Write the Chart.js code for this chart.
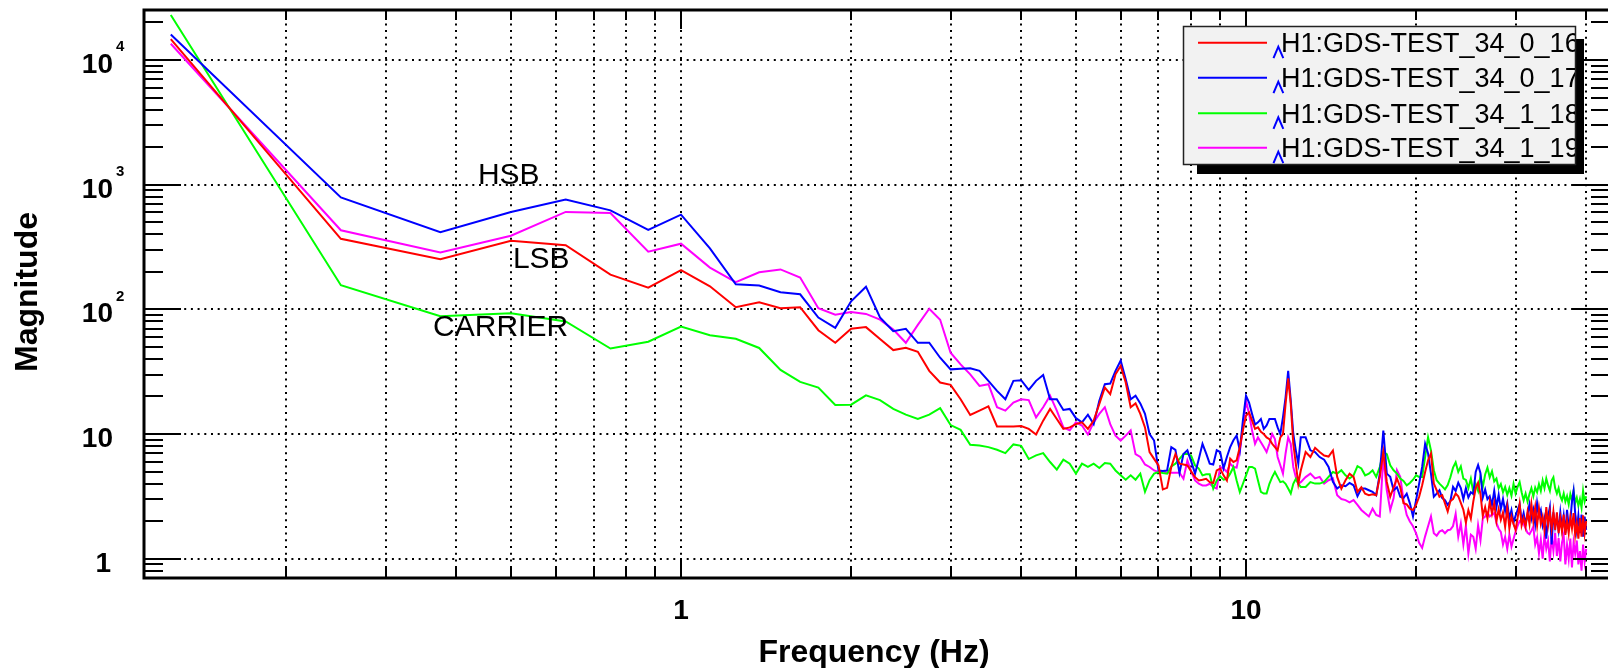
<!DOCTYPE html>
<html>
<head>
<meta charset="utf-8">
<script src="https://cdn.jsdelivr.net/npm/chart.js@4.4.0/dist/chart.umd.min.js"></script>
<style>
html,body{margin:0;padding:0;background:#fff;overflow:hidden;width:1608px;height:668px;}
canvas{display:block;}
</style>
</head>
<body>
<canvas id="c" width="1620" height="668"></canvas>
<script>
// ---------- data ----------
const freqs = [
 0.125,0.25,0.375,0.5,0.625,0.75,0.875,1,
 1.125,1.25,1.375,1.5,1.625,1.75,1.875,2,
 2.125,2.25,2.375,2.5,2.625,2.75,2.875,3,
 3.125,3.25,3.375,3.5,3.625,3.75,3.875,4,
 4.125,4.25,4.375,4.5,4.625,4.75,4.875,5,
 5.125,5.25,5.375,5.5,5.625,5.75,5.875,6,
 6.125,6.25,6.375,6.5,6.625,6.75,6.875,7,
 7.125,7.25,7.375,7.5,7.625,7.75,7.875,8,
 8.125,8.25,8.375,8.5,8.625,8.75,8.875,9,
 9.125,9.25,9.375,9.5,9.625,9.75,9.875,10,
 10.125,10.25,10.375,10.5,10.625,10.75,10.875,11,
 11.125,11.25,11.375,11.5,11.625,11.75,11.875,12,
 12.125,12.25,12.375,12.5,
 12.75,13,
 13.25,13.5,13.75,14, 14.25,14.5,14.75,15, 15.25,15.5,15.75,16,
 16.25,16.5,16.75,17, 17.25,17.5,17.75,18, 18.25,18.5,18.75,19,
 19.25,19.5,19.75,20, 20.25,20.5,20.75,21, 21.25,21.5,21.75,22,
 22.25,22.5,22.75,23, 23.25,23.5,23.75,24, 24.25,24.5,24.75,25,
 25.25,25.5,25.75,26, 26.25,26.5,26.75,27, 27.25,27.5,27.75,28,
 28.25,28.5,28.75,29, 29.25,29.5,29.75,30, 30.25,30.5,30.75,31,
 31.25,31.5,31.75,32, 32.25,32.5,32.75,33, 33.25,33.5,33.75,34,
 34.25,34.5,34.75,35, 35.25,35.5,35.75,36, 36.25,36.5,36.75,37,
 37.25,37.5,37.75,38, 38.25,38.5,38.75,39, 39.25,39.5,39.75,40
];

const ch16 = [ // red
 14700,368,252,355,327,190,149,206,
 153,104,114,102,104,68,54,70,
 72,57.7,47.1,49.2,45.7,32.1,25.9,24.8,
 19,14.2,15.4,16.7,11.5,11.5,11.5,11.6,
 11.0,9.9,12.8,15.9,13.2,11.0,11.3,12.0,
 12.4,11.0,12.8,17.4,23.6,20.9,30.1,35.2,
 25.9,16.4,17.6,14.5,11.3,7.16,6.32,5.6,
 3.6,3.7,5.44,6.9,5.78,5.7,5.6,5.0,
 4.51,4.24,4.3,4.37,4.11,4.05,5.1,5.28,
 4.66,4.24,6.34,5.97,6.15,7.85,10.7,14.0,
 14.9,12.8,11.0,11.3,10.4,10.0,9.4,9.1,
 8.35,7.85,7.4,9.4,10.0,17.4,28,17.4,
 8.35,5.79,3.99,5.1,
 7.17,6.54,
 7.75,7.16,6.73,6.6, 7.38,4.53,3.65,4.26, 4.81,4.53,3.44,3.74,
 3.32,3.23,3.29,3.23, 4.53,7.16,4.13,3.14, 3.74,4.4,3.74,2.78,
 2.73,2.52,2.46,2.7, 3.14,3.88,4.96,6.15, 6.98,4.0,3.54,3.14,
 3.23,2.78,2.39,2.9, 3.01,3.33,3.17,2.80, 2.47,1.95,2.45,2.1,
 2.87,3.68,4.07,3.3, 2.2,2.59,2.1,2.87, 2.3,2.80,2.0,2.49,
 2.05,2.35,1.8,2.57, 1.75,2.18,1.9,1.7, 2.12,2.73,1.85,2.12,
 1.8,2.37,1.9,2.73, 2.0,2.59,1.85,2.53, 1.9,2.18,1.7,2.59,
 1.85,2.35,1.75,2.37, 1.7,2.35,1.6,2.10, 1.65,2.26,1.55,2.02,
 1.6,2.14,1.75,2.32, 1.55,1.92,1.45,2.12, 1.5,2.23,1.6,2.0
];

const ch17 = [ // blue
 16000,789,415,604,761,622,433,574,
 308,159,155,137,132,86,71,116,
 152,86,66.8,69.7,53.9,54,40.9,33,
 33.4,33.7,32.1,26.7,22.2,19,26.7,27,
 22.6,26.7,29.8,19,19,15.6,15.9,13.4,
 12.4,14.3,12.0,18.5,25.1,25.4,32.1,38.9,
 27.5,19,20.3,17.6,14.5,10.0,8.87,5.1,
 5.05,5.1,7.85,7.47,4.87,6.9,7.4,6.0,
 4.81,6.3,8.35,7.0,5.79,5.7,7.4,7.17,
 5.3,6.54,7.85,8.9,9.73,7.4,12.9,20.3,
 17.9,14.5,11.9,12.4,13.2,11.0,11.7,13.2,
 13.2,13.2,11.3,10.0,13.6,19.7,32.1,18.6,
 10.0,7.4,5.79,9.4,
 9.4,7.4,
 7.16,6.53,6.22,5.44, 4.13,3.65,3.88,3.81, 4.05,3.88,3.17,3.65,
 3.65,3.54,3.44,3.23, 4.81,10.65,4.81,4.53, 3.54,3.74,3.14,3.06,
 3.32,2.78,2.18,2.95, 4.0,5.44,8.35,6.98, 4.81,3.14,3.32,3.54,
 3.06,2.95,2.7,2.9, 3.77,3.50,4.07,3.68, 3.0,3.68,3.1,3.41,
 3.30,4.97,5.64,4.85, 3.1,3.59,3.0,3.17, 2.7,3.50,2.6,3.25,
 2.5,3.01,2.4,2.80, 2.1,2.45,1.95,2.21, 2.47,2.73,2.0,2.32,
 1.9,2.29,2.73,2.1, 2.47,1.9,2.80,2.2, 2.45,1.85,2.12,1.45,
 2.18,2.59,1.3,2.35, 1.8,2.12,1.7,2.35, 1.75,2.21,1.6,2.47,
 1.8,2.02,2.87,3.50, 2.3,1.7,2.21,1.6, 2.26,1.5,2.18,1.7
];

const ch18 = [ // green
 22950,156,88,93,80,48.5,55,72.8,
 62,58,49,32.7,26.2,23.6,17.1,17.2,
 20.4,18.7,15.9,14.3,13.2,14.3,16.1,11.8,
 10.8,8.19,8.1,7.85,7.47,7.03,8.25,8.04,
 6.3,6.74,7.03,5.96,5.18,6.22,5.78,4.81,
 5.78,5.44,5.78,5.34,5.85,5.78,5.1,4.67,
 4.3,4.67,4.3,4.81,3.44,4.26,4.81,4.96,
 4.87,4.81,5.5,5.78,6.32,6.9,6.95,6.66,
 5.6,5.28,4.66,4.75,4.75,3.65,4.24,4.58,
 4.3,4.37,4.81,5.44,4.24,3.43,3.99,4.66,
 5.44,5.44,5.28,4.24,3.43,3.33,3.33,3.99,
 4.51,4.96,4.51,4.11,4.17,3.99,3.65,3.33,
 3.99,4.37,3.99,3.76,
 3.76,4.11,
 4.0,4.0,4.13,4.53, 4.96,4.81,5.12,4.66, 4.4,4.66,5.52,5.29,
 4.66,4.81,5.12,4.53, 5.44,7.16,6.9,5.6, 5.12,4.81,4.4,4.2,
 3.88,4.05,4.3,4.66, 4.53,4.53,6.53,9.43, 7.38,5.12,4.26,4.0,
 3.8,3.6,3.9,4.5, 5.37,5.92,4.97,5.50, 4.39,4.28,3.68,4.39,
 3.41,3.97,3.50,4.61, 3.77,4.73,5.37,4.50, 5.02,4.17,4.39,3.68,
 3.97,3.41,3.77,3.25, 3.68,3.20,3.97,3.33, 3.77,4.11,3.41,2.94,
 3.33,2.87,3.30,3.68, 3.17,3.72,3.41,3.97, 3.50,4.24,3.68,4.39,
 3.87,3.50,4.24,4.50, 3.68,3.33,3.68,3.17, 2.94,3.33,2.87,3.17,
 2.73,3.30,2.94,3.50, 2.80,3.09,2.66,3.01, 2.57,3.50,2.87,3.17
];

const ch19 = [ // magenta
 13500,431,286,389,604,593,290,336,
 216,165,198,209,180,102,90.6,95,
 91.9,82.6,68.8,53.9,75,101,82.6,44.9,
 36.2,30.1,24.3,25.1,16.4,15.4,17.9,19,
 18.7,13.6,16.4,20.3,15.4,11.3,10.7,12.4,
 11.7,9.9,12.4,14.5,16.4,12.0,9.7,8.87,
 9.7,10.7,6.9,6.54,5.7,5.44,5.1,4.96,
 5.05,4.9,4.9,4.9,4.9,4.38,6.14,5.0,
 4.24,3.99,3.87,3.87,3.99,3.76,3.65,5.44,
 5.28,4.96,5.79,5.44,5.38,7.17,11.3,18.6,
 14.5,10.7,8.35,9.4,8.6,7.85,7.17,8.35,
 10.0,9.1,6.54,5.62,4.81,6.98,9.4,8.35,
 5.44,4.51,3.99,4.11,
 4.51,4.81,
 4.4,4.53,4.0,4.26, 4.4,3.23,3.01,2.95, 2.83,2.95,2.7,2.46,
 2.31,2.18,2.52,2.24, 2.18,6.53,3.54,2.46, 3.06,5.12,4.53,2.95,
 2.24,1.99,1.82,1.6, 1.34,1.22,1.51,1.82, 2.18,1.6,1.53,1.65,
 1.69,1.6,1.69,1.71, 1.83,2.29,1.5,1.92, 1.3,1.83,1.1,1.56,
 1.50,1.2,1.85,1.4, 2.10,2.18,2.35,2.18, 2.26,2.32,1.94,1.74,
 1.64,1.3,1.50,1.2, 1.56,1.25,1.44,1.65, 1.83,2.00,1.97,1.90,
 1.74,1.61,1.57,1.68, 1.81,1.3,1.48,1.1, 1.42,1.0,1.56,1.2,
 1.39,0.95,1.50,1.15, 1.61,1.05,1.46,0.95, 1.35,1.56,0.9,1.29,
 1.0,1.45,0.85,1.35, 1.1,1.40,0.9,1.15, 0.8,1.3,0.95,1.2
];

const seriesNames  = ['H1:GDS-TEST_34_0_16','H1:GDS-TEST_34_0_17','H1:GDS-TEST_34_1_18','H1:GDS-TEST_34_1_19'];
const seriesValues = [ch16, ch17, ch18, ch19];
const seriesColors = ['#ff0000','#0000ff','#00ff00','#ff00ff'];

const xGridValues  = [0.2,0.3,0.4,0.5,0.6,0.7,0.8,0.9,1,2,3,4,5,6,7,8,9,10,20,30,40];
const xMajorValues = [1,10];
const xTickLabels  = ['1','10'];
const yMajorValues = [1,10,100,1000,10000];
const yTickBase    = ['1','10','10','10','10'];
const yTickExp     = ['','','2','3','4'];
const yMinorValues = [0.8,0.9,2,3,4,5,6,7,8,9,20,30,40,50,60,70,80,90,200,300,400,500,600,700,800,900,2000,3000,4000,5000,6000,7000,8000,9000,20000];

const xTitle = 'Frequency (Hz)';
const yTitle = 'Magnitude';
const annotationTexts = ['HSB','LSB','CARRIER'];
const annotationFreq  = [0.437, 0.504, 0.364];   // anchor (left edge) in Hz
const annotationMag   = [1015, 216, 61.3];       // anchor (baseline) in magnitude

const X_MIN = 0.11207, X_MAX = 44.08, Y_MIN = 0.7495, Y_MAX = 25170;

seriesValues.forEach((s,i)=>{ if (s.length !== freqs.length) throw new Error('length mismatch series '+i+': '+s.length+' vs '+freqs.length); });

// ---------- drawing helpers ----------
const FONT = '"Liberation Sans", Arial, Helvetica, sans-serif';

const rootStyle = {
  id: 'rootStyle',
  beforeDraw(chart) {
    const c = chart.ctx;
    c.save();
    c.fillStyle = '#ffffff';
    c.fillRect(0, 0, chart.width, chart.height);
    c.restore();
  },
  beforeDatasetsDraw(chart) {
    const c = chart.ctx, a = chart.chartArea, xs = chart.scales.x, ys = chart.scales.y;
    c.save();
    c.strokeStyle = '#000';
    c.lineWidth = 2;
    c.setLineDash([2, 4.7]);
    xGridValues.forEach(v => {
      const px = Math.round(xs.getPixelForValue(v));
      c.beginPath(); c.moveTo(px, a.top); c.lineTo(px, a.bottom); c.stroke();
    });
    yMajorValues.forEach(v => {
      const py = Math.round(ys.getPixelForValue(v));
      c.beginPath(); c.moveTo(a.left, py); c.lineTo(a.right, py); c.stroke();
    });
    c.restore();
  },
  afterDatasetsDraw(chart) {
    const c = chart.ctx, a = chart.chartArea, xs = chart.scales.x, ys = chart.scales.y;
    c.save();
    // frame
    c.strokeStyle = '#000';
    c.lineWidth = 3;
    c.strokeRect(a.left, a.top, a.right - a.left, a.bottom - a.top);
    // ticks
    c.lineWidth = 2;
    const xt = (v, len) => {
      const px = Math.round(xs.getPixelForValue(v));
      c.beginPath(); c.moveTo(px, a.bottom); c.lineTo(px, a.bottom - len); c.stroke();
      c.beginPath(); c.moveTo(px, a.top); c.lineTo(px, a.top + len); c.stroke();
    };
    xGridValues.forEach(v => xt(v, xMajorValues.includes(v) ? 19 : 10));
    const yt = (v, len) => {
      const py = Math.round(ys.getPixelForValue(v));
      c.beginPath(); c.moveTo(a.left, py); c.lineTo(a.left + len, py); c.stroke();
      c.beginPath(); c.moveTo(a.right, py); c.lineTo(a.right - len, py); c.stroke();
    };
    yMinorValues.forEach(v => yt(v, 19));
    yMajorValues.forEach(v => yt(v, 37));

    // tick labels
    c.fillStyle = '#000';
    c.textBaseline = 'alphabetic';
    yMajorValues.forEach((v, i) => {
      const py = ys.getPixelForValue(v);
      c.font = 'bold 28px ' + FONT;
      c.textAlign = 'right';
      c.fillText(yTickBase[i], yTickBase[i].length === 1 ? 111 : 113, py + 13);
      if (yTickExp[i]) {
        c.font = 'bold 15px ' + FONT;
        c.textAlign = 'left';
        c.fillText(yTickExp[i], 116, py - 8.5);
      }
    });
    c.font = 'bold 28px ' + FONT;
    c.textAlign = 'center';
    xMajorValues.forEach((v, i) => {
      c.fillText(xTickLabels[i], xs.getPixelForValue(v), 619);
    });

    // axis titles
    c.font = 'bold 32px ' + FONT;
    c.textAlign = 'center';
    c.fillText(xTitle, 874, 662);
    c.save();
    c.translate(37, 292);
    c.rotate(-Math.PI / 2);
    c.fillText(yTitle, 0, 0);
    c.restore();

    // annotations
    c.font = '30px ' + FONT;
    c.textAlign = 'left';
    annotationTexts.forEach((t, i) => {
      c.fillText(t, xs.getPixelForValue(annotationFreq[i]), ys.getPixelForValue(annotationMag[i]));
    });

    // legend
    const L = {x1: 1183, y1: 26, x2: 1576, y2: 165};
    c.fillStyle = '#000';
    c.fillRect(L.x2, L.y1 + 13, 8, L.y2 - L.y1 - 4);
    c.fillRect(L.x1 + 14, L.y2, L.x2 - L.x1 - 6, 9);
    c.fillStyle = '#f2f2f2';
    c.fillRect(L.x1, L.y1, L.x2 - L.x1, L.y2 - L.y1);
    c.strokeStyle = '#222';
    c.lineWidth = 1.5;
    c.strokeRect(L.x1 + 0.5, L.y1 + 0.5, L.x2 - L.x1 - 1, L.y2 - L.y1 - 1);
    const rowY = [42.7, 77.7, 113.3, 147.7];
    seriesNames.forEach((name, i) => {
      const y = rowY[i];
      c.strokeStyle = seriesColors[i];
      c.lineWidth = 2;
      c.beginPath(); c.moveTo(1198, y); c.lineTo(1267, y); c.stroke();
      c.save();
      c.beginPath(); c.rect(L.x1, L.y1, L.x2 - L.x1 - 1, L.y2 - L.y1); c.clip();
      c.fillStyle = '#000';
      c.font = '27px ' + FONT;
      c.textAlign = 'left';
      c.fillText(name, 1281, y + 9.3);
      c.restore();
      c.strokeStyle = '#0000ff';
      c.lineWidth = 2;
      c.beginPath();
      c.moveTo(1273.5, y + 15.5); c.lineTo(1278.3, y + 4); c.lineTo(1283.3, y + 15.5);
      c.stroke();
    });
    c.restore();
  }
};

const datasets = seriesNames.map((name, i) => ({
  label: name,
  data: freqs.map((f, k) => ({x: f, y: seriesValues[i][k]})),
  borderColor: seriesColors[i],
  backgroundColor: seriesColors[i],
  borderWidth: 2,
  pointRadius: 0,
  tension: 0,
  fill: false
}));

new Chart(document.getElementById('c').getContext('2d'), {
  type: 'line',
  data: { datasets },
  options: {
    responsive: false,
    animation: false,
    events: [],
    layout: { padding: { left: 144, top: 10, right: 10, bottom: 90 } },
    scales: {
      x: { type: 'logarithmic', min: X_MIN, max: X_MAX, display: false },
      y: { type: 'logarithmic', min: Y_MIN, max: Y_MAX, display: false }
    },
    plugins: { legend: { display: false }, tooltip: { enabled: false } }
  },
  plugins: [rootStyle]
});
</script>
</body>
</html>
